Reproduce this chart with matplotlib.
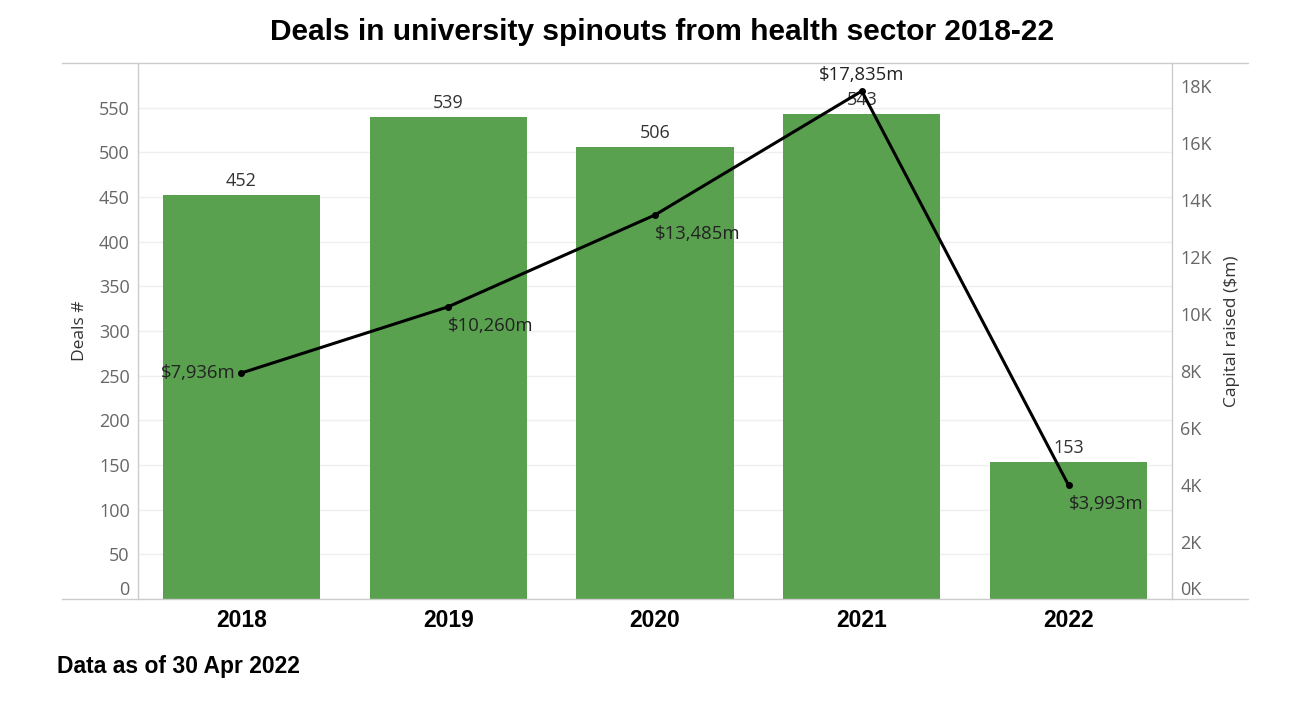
import matplotlib.pyplot as plt
from matplotlib.lines import Line2D

plt.rcParams['font.family'] = ['Open Sans', 'DejaVu Sans']

years = ['2018', '2019', '2020', '2021', '2022']
deals = [452, 539, 506, 543, 153]
capital = [7936, 10260, 13485, 17835, 3993]
left_ticks = list(range(0, 551, 50))
right_ticks = list(range(0, 18001, 2000))

GREEN = '#59a14f'
GRAY = '#666666'

fig = plt.figure(figsize=(13.16, 7.09), dpi=100)
ax = fig.add_axes([138 / 1316, 1 - 599 / 709, (1172 - 138) / 1316, (599 - 63) / 709])
ax2 = ax.twinx()

x = list(range(len(years)))
ax.bar(x, deals, width=0.76, color=GREEN, zorder=2)
ax.set_xlim(-0.5, 4.5)
ax.set_ylim(0, 600)
ax.set_yticks(left_ticks)
ax.grid(axis='y', color='#efefef', lw=1, zorder=0)
ax.set_axisbelow(True)
ax.set_xticks(x)
ax.set_xticklabels(years, fontsize=16.5, fontweight='bold', family='Liberation Sans')
ax.tick_params(axis='x', length=0, pad=7)
ax.tick_params(axis='y', length=0, labelsize=13, labelcolor=GRAY, pad=6)
for lab in ax.get_yticklabels():
    if lab.get_text() == '0':
        lab.set_va('bottom')
ax.set_ylabel('Deals #', fontsize=12.5, color='#333333', labelpad=8)

for i, v in enumerate(deals):
    ax.text(i, v + 6, str(v), ha='center', va='bottom', fontsize=13, color='#333333', zorder=5)

ax2.plot(x, capital, color='black', lw=2.2, marker='o', ms=4, zorder=4)
ax2.set_ylim(0, 18820)
ax2.set_yticks(right_ticks)
ax2.set_yticklabels([f'{t // 1000}K' for t in right_ticks])
ax2.tick_params(axis='y', length=0, labelsize=13, labelcolor=GRAY, pad=6)
for lab in ax2.get_yticklabels():
    if lab.get_text() == '0K':
        lab.set_va('bottom')
ax2.set_ylabel('Capital raised ($m)', fontsize=12.5, color='#333333', labelpad=9)

lab_style = dict(fontsize=13.3, color='#222222', zorder=6)
offsets = [(-4, 0, 'right', 'center'), (0, -7, 'left', 'top'), (0, -7, 'left', 'top'),
           (0, 5, 'center', 'bottom'), (0, -7, 'left', 'top')]
for i, (c, (dx, dy, ha, va)) in enumerate(zip(capital, offsets)):
    ax2.annotate(f'${c:,}m', (i, c), xytext=(dx, dy), textcoords='offset points',
                 ha=ha, va=va, **lab_style)

for a in (ax, ax2):
    for s in a.spines.values():
        s.set_visible(False)
for xs in (138, 1172):
    fig.add_artist(Line2D([xs / 1316] * 2, [1 - 599 / 709, 1 - 63 / 709], color='#cccccc', lw=1))
for ys in (63, 599):
    fig.add_artist(Line2D([62 / 1316, 1248 / 1316], [1 - ys / 709] * 2, color='#cccccc', lw=1))

fig.text(662 / 1316, 1 - 32 / 709, 'Deals in university spinouts from health sector 2018-22',
         ha='center', va='center', fontsize=21.5, fontweight='bold', family='Liberation Sans')
fig.text(57 / 1316, 1 - 667 / 709, 'Data as of 30 Apr 2022', ha='left', va='center',
         fontsize=16.5, fontweight='bold', family='Liberation Sans')

fig.savefig('out.png', dpi=100)
